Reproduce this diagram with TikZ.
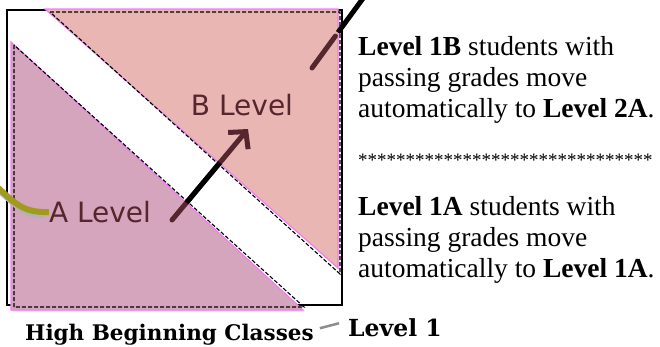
\documentclass[tikz,border=0pt]{standalone}
\usepackage{fontspec}
\setmainfont{Liberation Serif}
\newfontfamily\handfont{DejaVu Sans}
\newfontfamily\slabfont{DejaVu Serif}
\usetikzlibrary{arrows.meta, positioning, calc, shadows}
\definecolor{lvlA}{HTML}{D5A4BD}
\definecolor{lvlB}{HTML}{E9B6B4}
\definecolor{edgePink}{HTML}{F07EF0}
\definecolor{hintBrown}{HTML}{56262E}
\definecolor{curveOlive}{HTML}{A09B1C}
\definecolor{dashGray}{HTML}{8C8C8C}
\tikzset{
  triFill/.style={draw=edgePink, line width=1.2pt,
                  drop shadow={opacity=0.25, shadow xshift=1.5pt, shadow yshift=-1.5pt}},
  dashEdge/.style={draw=black, dash pattern=on 4pt off 2pt, line width=1.1pt},
  moveArrow/.style={hintBrown, line width=5pt, line cap=round,
                    -{Straight Barb[length=12pt, width=26pt]}},
  gapLine/.style={black, line width=5pt},
  handText/.style={font=\handfont\fontsize{28}{30}\selectfont, text=hintBrown, inner sep=0pt},
  noteText/.style={font=\fontsize{27.5}{31}\selectfont, inner sep=0pt, anchor=base west},
}

\begin{document}
\begin{tikzpicture}[x=1pt, y=-1pt]
  \useasboundingbox (0,0) rectangle (660,346);
  % outer frame
  \draw[black, line width=1.3pt] (7,10) rectangle (342,305);
  % level triangles
  \fill[triFill, fill=lvlB] (45,9) -- (338,9) -- (338,268) -- cycle;
  \fill[triFill, fill=lvlA] (11,42) -- (11,310) -- (303,310) -- cycle;
  \draw[dashEdge] (50,12) -- (340,12) -- (340,274) -- cycle;
  \draw[dashEdge] (14,45) -- (14,307) -- (304,307) -- cycle;

  % labels
  \node[handText] (aLabel) at (100,212) {A Level};
  \node[handText] (bLabel) at (242,105) {B Level};

  % moving up arrows
  \coordinate (aTail) at (172,220);
  \coordinate (bTip) at (248,129);
  \coordinate (bTail) at (312,68);
  \coordinate (upEnd) at (364,-3);
  \draw[moveArrow] (aTail) -- (bTip);
  \draw[gapLine] ($(aTail)!0.19!(bTip)$) -- ($(aTail)!0.63!(bTip)$);
  \draw[hintBrown, line width=5pt, line cap=round] (bTail) -- ($(bTail)!0.45!(upEnd)$);
  \draw[gapLine] ($(bTail)!0.5!(upEnd)$) -- (upEnd);

  % olive hook
  \coordinate (hookStart) at (-4,186);
  \draw[black!30, line width=3pt] (-4,190) .. controls (16,206) and (22,217) .. (44,217);
  \draw[curveOlive, line width=6pt] (hookStart) .. controls (14,202) and (22,213) .. (aLabel.west);

  % notes on the right
  \node[noteText] (noteB1) at (358,55) {\textbf{Level 1B} students with};
  \node[noteText] (noteB2) at (358,86) {passing grades move};
  \node[noteText] (noteB3) at (358,117) {automatically to \textbf{Level 2A}.};
  \node[noteText, font=\fontsize{19}{19}\selectfont] (stars) at (358,166)
    {*******************************};
  \node[noteText] (noteA1) at (358,215) {\textbf{Level 1A} students with};
  \node[noteText] (noteA2) at (358,246) {passing grades move};
  \node[noteText] (noteA3) at (358,277) {automatically to \textbf{Level 1A}.};

  % caption
  \node[inner sep=0pt, anchor=base west, font=\slabfont\bfseries\fontsize{21.5}{21.5}\selectfont]
    (caption) at (25,340) {High Beginning Classes};
  \node[inner sep=0pt, anchor=base west, font=\slabfont\bfseries\fontsize{23.5}{23.5}\selectfont]
    (level) at (348,336) {Level 1};
  \draw[dashGray, line width=2.5pt] ($(caption.east)+(6,-6)$) -- ($(level.west)+(-9,-4)$);
\end{tikzpicture}
\end{document}
